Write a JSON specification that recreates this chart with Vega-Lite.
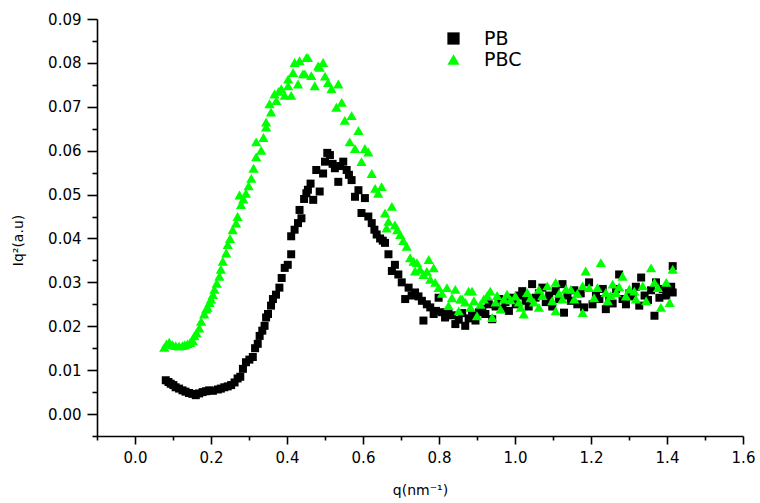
{
  "$schema": "https://vega.github.io/schema/vega-lite/v6.json",
  "width": 646,
  "height": 417,
  "autosize": "none",
  "padding": {"left": 97, "top": 19, "right": 17, "bottom": 67},
  "background": "white",
  "config": {"view": {"stroke": null}},
  "datasets": {
    "PB": [
[0.081,0.0077],[0.088,0.0073],[0.094,0.0069],[0.101,0.0066],[0.107,0.0061],[0.116,0.0058],[0.125,0.0054],[0.133,0.0051],[0.142,0.0048],[0.151,0.0046],
[0.160,0.0043],[0.169,0.0047],[0.178,0.0050],[0.187,0.0052],[0.195,0.0054],[0.205,0.0053],[0.218,0.0056],[0.226,0.0058],[0.235,0.0061],[0.244,0.0063],
[0.253,0.0066],[0.262,0.0072],[0.270,0.0081],[0.277,0.0085],[0.284,0.0103],[0.292,0.0118],[0.301,0.0124],[0.310,0.0130],[0.316,0.0150],[0.323,0.0160],
[0.328,0.0178],[0.335,0.0190],[0.341,0.0201],[0.345,0.0220],[0.350,0.0228],[0.358,0.0247],[0.363,0.0262],[0.371,0.0272],[0.380,0.0288],[0.386,0.0310],
[0.394,0.0333],[0.402,0.0340],[0.411,0.0364],[0.411,0.0405],[0.420,0.0420],[0.429,0.0435],[0.433,0.0465],[0.438,0.0446],[0.445,0.0490],[0.451,0.0503],
[0.455,0.0511],[0.462,0.0525],[0.469,0.0488],[0.477,0.0556],[0.486,0.0507],[0.495,0.0548],[0.500,0.0575],[0.506,0.0595],[0.513,0.0590],[0.520,0.0570],
[0.526,0.0560],[0.535,0.0529],[0.540,0.0565],[0.548,0.0575],[0.557,0.0556],[0.563,0.0545],[0.570,0.0533],[0.579,0.0495],[0.588,0.0510],[0.596,0.0458],
[0.605,0.0492],[0.614,0.0450],[0.623,0.0435],[0.630,0.0420],[0.636,0.0409],[0.645,0.0400],[0.652,0.0395],[0.658,0.0390],[0.667,0.0364],[0.676,0.0326],
[0.684,0.0340],[0.693,0.0318],[0.702,0.0300],[0.711,0.0262],[0.720,0.0288],[0.728,0.0270],[0.737,0.0277],[0.746,0.0268],[0.755,0.0258],[0.759,0.0213],
[0.768,0.0250],[0.777,0.0243],[0.786,0.0228],[0.792,0.0235],[0.799,0.0265],[0.808,0.0232],[0.816,0.0220],[0.825,0.0228],[0.834,0.0225],[0.843,0.0205],
[0.852,0.0215],[0.861,0.0230],[0.869,0.0201],[0.878,0.0218],[0.887,0.0225],[0.896,0.0213],[0.905,0.0232],[0.914,0.0240],[0.922,0.0228],[0.931,0.0250],
[0.940,0.0216],[0.949,0.0245],[0.958,0.0262],[0.967,0.0240],[0.975,0.0255],[0.984,0.0235],[0.993,0.0265],[1.002,0.0250],[1.010,0.0270],[1.019,0.0280],
[1.028,0.0258],[1.036,0.0245],[1.045,0.0296],[1.054,0.0265],[1.063,0.0275],[1.072,0.0288],[1.081,0.0255],[1.090,0.0270],[1.098,0.0245],[1.107,0.0280],
[1.116,0.0262],[1.125,0.0296],[1.129,0.0231],[1.138,0.0270],[1.147,0.0258],[1.156,0.0282],[1.164,0.0250],[1.173,0.0275],[1.182,0.0243],[1.195,0.0300],
[1.204,0.0250],[1.213,0.0270],[1.222,0.0262],[1.231,0.0285],[1.239,0.0239],[1.248,0.0265],[1.257,0.0252],[1.266,0.0285],[1.274,0.0318],[1.283,0.0262],
[1.292,0.0250],[1.301,0.0275],[1.310,0.0268],[1.318,0.0290],[1.327,0.0247],[1.332,0.0311],[1.341,0.0270],[1.350,0.0260],[1.358,0.0282],[1.367,0.0224],
[1.371,0.0300],[1.380,0.0265],[1.389,0.0285],[1.398,0.0270],[1.407,0.0280],[1.411,0.0290],[1.415,0.0337],[1.415,0.0277]
    ],
    "PBC": [
[0.077,0.0152],[0.083,0.0160],[0.090,0.0164],[0.099,0.0158],[0.107,0.0156],[0.116,0.0155],[0.125,0.0156],[0.131,0.0158],[0.138,0.0160],[0.145,0.0163],
[0.152,0.0167],[0.156,0.0178],[0.162,0.0185],[0.169,0.0196],[0.174,0.0211],[0.182,0.0228],[0.187,0.0239],[0.191,0.0243],[0.196,0.0254],[0.200,0.0262],
[0.205,0.0272],[0.209,0.0284],[0.215,0.0298],[0.222,0.0314],[0.226,0.0330],[0.231,0.0348],[0.240,0.0367],[0.244,0.0386],[0.250,0.0400],[0.257,0.0420],
[0.266,0.0435],[0.270,0.0450],[0.275,0.0499],[0.279,0.0477],[0.285,0.0490],[0.292,0.0503],[0.299,0.0520],[0.306,0.0537],[0.312,0.0560],[0.319,0.0586],
[0.319,0.0620],[0.332,0.0601],[0.338,0.0630],[0.345,0.0654],[0.345,0.0665],[0.354,0.0707],[0.358,0.0688],[0.367,0.0729],[0.372,0.0714],[0.378,0.0735],
[0.385,0.0741],[0.394,0.0726],[0.403,0.0748],[0.403,0.0763],[0.411,0.0726],[0.416,0.0778],[0.420,0.0801],[0.429,0.0752],[0.433,0.0805],[0.442,0.0775],
[0.447,0.0775],[0.451,0.0812],[0.455,0.0812],[0.464,0.0771],[0.473,0.0748],[0.482,0.0793],[0.486,0.0790],[0.495,0.0801],[0.500,0.0770],[0.508,0.0755],
[0.517,0.0741],[0.530,0.0699],[0.535,0.0752],[0.544,0.0710],[0.552,0.0669],[0.565,0.0620],[0.570,0.0680],[0.579,0.0605],[0.588,0.0646],[0.596,0.0575],
[0.605,0.0605],[0.614,0.0597],[0.623,0.0548],[0.632,0.0514],[0.640,0.0503],[0.649,0.0518],[0.658,0.0458],[0.662,0.0424],[0.667,0.0439],[0.676,0.0473],
[0.684,0.0431],[0.690,0.0420],[0.698,0.0409],[0.706,0.0395],[0.715,0.0382],[0.724,0.0356],[0.733,0.0348],[0.737,0.0326],[0.742,0.0345],[0.750,0.0330],
[0.759,0.0318],[0.768,0.0325],[0.773,0.0352],[0.777,0.0307],[0.786,0.0333],[0.790,0.0300],[0.799,0.0288],[0.808,0.0275],[0.821,0.0288],[0.825,0.0247],
[0.834,0.0265],[0.843,0.0284],[0.852,0.0235],[0.856,0.0262],[0.861,0.0262],[0.869,0.0255],[0.878,0.0280],[0.883,0.0243],[0.887,0.0280],[0.892,0.0258],
[0.900,0.0224],[0.909,0.0250],[0.918,0.0262],[0.927,0.0270],[0.935,0.0280],[0.940,0.0220],[0.949,0.0255],[0.953,0.0270],[0.962,0.0239],[0.971,0.0262],
[0.979,0.0273],[0.988,0.0260],[1.001,0.0269],[1.010,0.0255],[1.015,0.0243],[1.023,0.0228],[1.032,0.0277],[1.041,0.0265],[1.050,0.0255],[1.063,0.0243],
[1.063,0.0284],[1.072,0.0270],[1.085,0.0292],[1.098,0.0258],[1.107,0.0300],[1.107,0.0235],[1.116,0.0275],[1.125,0.0262],[1.134,0.0285],[1.147,0.0284],
[1.156,0.0262],[1.164,0.0275],[1.178,0.0292],[1.178,0.0231],[1.186,0.0326],[1.195,0.0288],[1.208,0.0265],[1.217,0.0288],[1.226,0.0345],[1.239,0.0277],
[1.244,0.0258],[1.252,0.0270],[1.257,0.0296],[1.266,0.0277],[1.274,0.0290],[1.283,0.0314],[1.292,0.0269],[1.301,0.0285],[1.314,0.0280],[1.318,0.0262],
[1.336,0.0292],[1.345,0.0258],[1.358,0.0333],[1.367,0.0300],[1.376,0.0288],[1.384,0.0243],[1.398,0.0300],[1.407,0.0254],[1.415,0.0330]
    ]
  },
  "encoding": {
    "x": {
      "field": "q", "type": "quantitative",
      "scale": {"domain": [-0.1, 1.6], "nice": false, "zero": false},
      "axis": {
        "values": [-0.1,0,0.1,0.2,0.3,0.4,0.5,0.6,0.7,0.8,0.9,1.0,1.1,1.2,1.3,1.4,1.5,1.6],
        "labelExpr": "abs(round(datum.value*10)) % 2 == 1 ? '' : format(datum.value, '.1f')",
        "grid": false,
        "domainColor": "#000", "domainWidth": 1.6,
        "tickColor": "#000", "tickWidth": 1.6, "tickSize": 8,
        "tickDash": {"condition": {"test": "abs(round(datum.value*10)) % 2 == 1", "value": [4, 20]}, "value": [20, 0]},
        "labelFont": "DejaVu Sans", "labelFontSize": 15, "labelColor": "#000",
        "labelPadding": 6, "labelFlush": false, "labelOverlap": false,
        "title": "q(nm⁻¹)", "titleFont": "DejaVu Sans", "titleFontSize": 14, "titleFontWeight": "normal",
        "titleColor": "#000", "titleY": 54, "titleBaseline": "middle"
      }
    },
    "y": {
      "field": "Iq2", "type": "quantitative",
      "scale": {"domain": [-0.005, 0.09], "nice": false, "zero": false},
      "axis": {
        "values": [-0.005,0,0.005,0.01,0.015,0.02,0.025,0.03,0.035,0.04,0.045,0.05,0.055,0.06,0.065,0.07,0.075,0.08,0.085,0.09],
        "labelExpr": "abs(round(datum.value*200)) % 2 == 1 ? '' : format(datum.value, '.2f')",
        "grid": false,
        "domainColor": "#000", "domainWidth": 1.6,
        "tickColor": "#000", "tickWidth": 1.6, "tickSize": 10,
        "tickDash": {"condition": {"test": "abs(round(datum.value*200)) % 2 == 1", "value": [5, 20]}, "value": [20, 0]},
        "labelFont": "DejaVu Sans", "labelFontSize": 15, "labelColor": "#000",
        "labelPadding": 6, "labelFlush": false, "labelOverlap": false,
        "title": "Iq²(a.u)", "titleFont": "DejaVu Sans", "titleFontSize": 14, "titleFontWeight": "normal",
        "titleColor": "#000", "titleX": -79, "titleY": 221, "titleBaseline": "middle", "titleAngle": -90
      }
    },
    "color": {
      "field": "series", "type": "nominal",
      "scale": {"domain": ["PB", "PBC"], "range": ["#000000", "#00ff00"]},
      "legend": {
        "title": null, "orient": "none", "legendX": 347, "legendY": 10,
        "padding": 0, "rowPadding": 1, "symbolSize": 150, "symbolStrokeWidth": 0,
        "labelFont": "DejaVu Sans", "labelFontSize": 19, "labelColor": "#000",
        "labelOffset": 21
      }
    },
    "shape": {
      "field": "series", "type": "nominal",
      "scale": {"domain": ["PB", "PBC"], "range": ["square", "triangle-up"]}
    }
  },
  "layer": [
    {
      "data": {"name": "PB"},
      "transform": [
        {"calculate": "datum[0]", "as": "q"},
        {"calculate": "datum[1]", "as": "Iq2"},
        {"calculate": "'PB'", "as": "series"}
      ],
      "mark": {"type": "point", "filled": true, "opacity": 1, "size": 64, "strokeWidth": 0}
    },
    {
      "data": {"name": "PBC"},
      "transform": [
        {"calculate": "datum[0]", "as": "q"},
        {"calculate": "datum[1]", "as": "Iq2"},
        {"calculate": "'PBC'", "as": "series"}
      ],
      "mark": {"type": "point", "filled": true, "opacity": 1, "size": 105, "strokeWidth": 0}
    }
  ]
}
